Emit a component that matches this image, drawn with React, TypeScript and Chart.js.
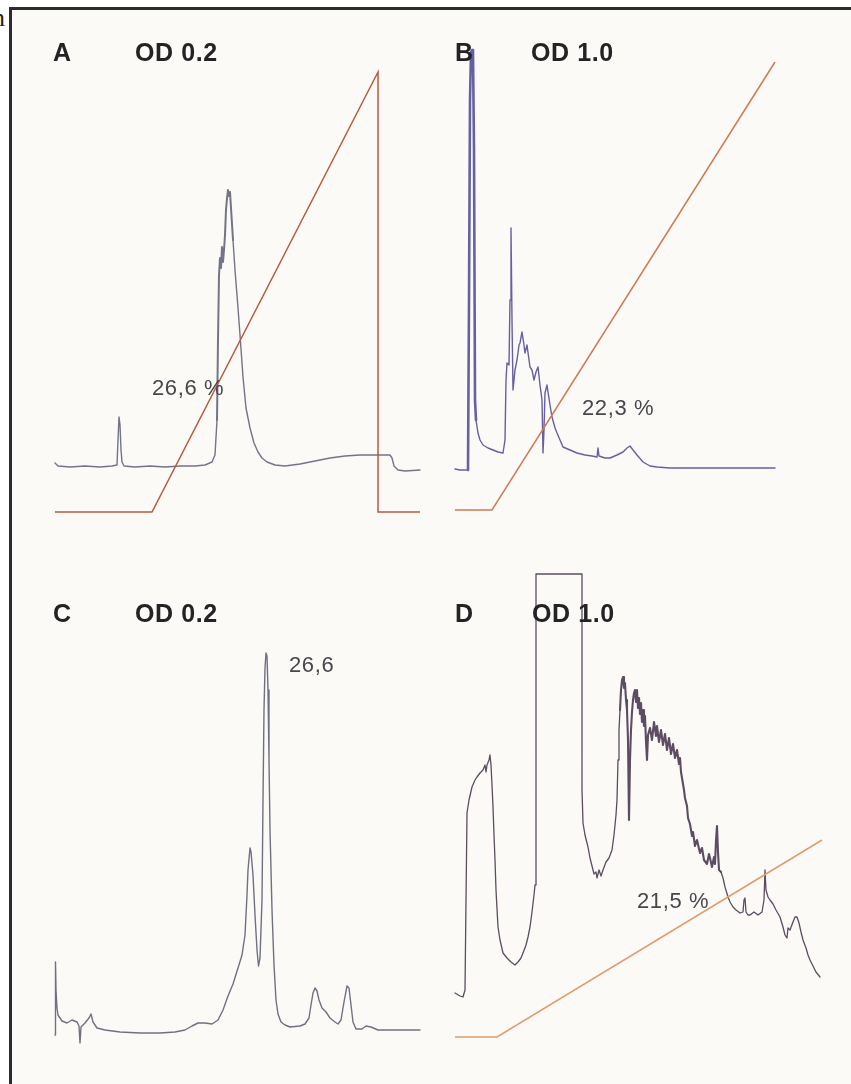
import { useEffect, useRef } from "react";
import { Chart, registerables } from "chart.js";

Chart.register(...registerables);

// ---------- Panel A (OD 0.2) : time (min) vs signal ----------
const A_TIME = [0, 0.3, 1.5, 3.0, 4.5, 5.7, 6.2, 6.3, 6.4, 6.5, 6.6, 6.7, 6.9, 8.0, 9.5, 11.0, 12.5, 14.0, 15.0, 15.7, 16.0, 16.2, 16.3, 16.4, 16.5, 16.6, 16.7, 16.8, 16.9, 17.0, 17.1, 17.2, 17.3, 17.4, 17.5, 17.6, 17.8, 18.0, 18.3, 18.5, 18.8, 19.1, 19.5, 19.9, 20.3, 20.7, 21.2, 22.0, 23.0, 24.5, 26.0, 27.5, 29.0, 30.5, 32.0, 33.5, 33.7, 33.9, 34.3, 35.0, 36.5];
const A_SIGNAL = [7, 4, 3, 4, 3, 4, 5, 30, 53, 45, 20, 8, 4, 3, 4, 3, 4, 4, 5, 8, 15, 50, 130, 195, 212, 202, 223, 208, 220, 235, 260, 272, 280, 274, 278, 262, 230, 200, 162, 135, 93, 62, 42, 27, 18, 12, 8, 5, 4, 6, 9, 12, 14, 15, 15, 15, 12, 4, 0, -1, 0];
const A_GRAD_TIME = [0, 9.7, 32.3, 32.3, 36.5];
const A_GRAD_B = [0, 0, 100, 0, 0];

// ---------- Panel B (OD 1.0) ----------
const B_TIME = [0, 0.5, 1.3, 1.4, 1.5, 1.6, 1.7, 1.8, 1.9, 2.0, 2.1, 2.3, 2.5, 2.8, 3.3, 3.8, 4.3, 4.8, 5.0, 5.1, 5.2, 5.4, 5.5, 5.6, 5.7, 5.8, 6.0, 6.2, 6.4, 6.5, 6.7, 6.9, 7.0, 7.2, 7.4, 7.5, 7.7, 7.9, 8.1, 8.3, 8.5, 8.7, 8.8, 8.9, 9.0, 9.2, 9.3, 9.5, 9.7, 10.0, 10.2, 10.5, 10.8, 11.5, 12.2, 13.0, 13.7, 14.2, 14.3, 14.4, 15.0, 15.5, 16.2, 16.8, 17.2, 17.5, 17.8, 18.2, 18.8, 19.5, 20.2, 21.5, 24.5, 28.5, 32.0];
const B_SIGNAL = [1, 0, 0, 170, 370, 418, 420, 418, 320, 70, 50, 37, 30, 25, 22, 20, 18, 17, 30, 90, 107, 105, 170, 242, 150, 80, 100, 110, 125, 127, 138, 125, 117, 125, 110, 103, 100, 90, 98, 103, 85, 70, 17, 40, 77, 85, 78, 65, 53, 42, 37, 30, 23, 20, 17, 15, 14, 13, 22, 14, 12, 12, 15, 18, 22, 24, 20, 15, 8, 4, 3, 2, 2, 2, 2];
const B_GRAD_TIME = [0, 3.7, 32.0];
const B_GRAD_B = [0, 0, 100];

// ---------- Panel C (OD 0.2) ----------
const C_TIME = [0, 0.05, 0.1, 0.2, 0.3, 0.7, 1.2, 1.7, 2.2, 2.4, 2.5, 2.6, 3.0, 3.4, 3.6, 3.8, 4.2, 5.0, 6.5, 8.5, 10.5, 12.0, 13.0, 13.7, 14.3, 15.0, 15.7, 16.3, 16.8, 17.3, 17.8, 18.3, 18.7, 19.0, 19.2, 19.3, 19.5, 19.6, 19.8, 20.0, 20.2, 20.35, 20.5, 20.7, 20.8, 20.9, 21.0, 21.1, 21.2, 21.3, 21.4, 21.5, 21.7, 21.9, 22.1, 22.3, 22.6, 23.0, 23.5, 24.5, 25.0, 25.4, 25.6, 25.8, 26.0, 26.2, 26.4, 26.7, 27.1, 27.5, 28.0, 28.3, 28.6, 28.9, 29.2, 29.4, 29.6, 29.8, 30.1, 30.7, 31.1, 31.6, 32.3, 34.0, 36.5];
const C_SIGNAL = [-5, 68, 40, 22, 15, 9, 7, 10, 8, 4, -13, 3, 7, 12, 16, 8, 2, 0, -2, -3, -3, -2, 0, 4, 7, 7, 6, 10, 20, 34, 46, 62, 75, 95, 135, 160, 182, 178, 155, 115, 80, 64, 72, 130, 230, 320, 362, 377, 374, 340, 270, 200, 120, 65, 30, 16, 8, 5, 3, 4, 6, 12, 25, 37, 42, 39, 30, 22, 18, 12, 8, 6, 10, 28, 44, 42, 25, 8, 1, 1, 4, 3, 0, 0, 0];

// ---------- Panel D (OD 1.0) ----------
const D_TIME = [0, 0.5, 0.8, 1.0, 1.1, 1.2, 1.4, 1.7, 2.0, 2.2, 2.5, 2.8, 3.0, 3.1, 3.2, 3.4, 3.5, 3.6, 3.7, 3.8, 3.9, 4.0, 4.1, 4.3, 4.5, 4.8, 5.2, 5.6, 6.0, 6.3, 6.6, 6.8, 7.1, 7.3, 7.5, 7.7, 7.9, 8.0, 8.1, 12.7, 12.7, 12.8, 13.0, 13.3, 13.5, 13.7, 13.9, 14.1, 14.2, 14.4, 14.6, 14.8, 15.1, 15.4, 15.7, 15.9, 16.1, 16.2, 16.3, 16.4, 16.5, 16.6, 16.7, 16.8, 16.9, 17.0, 17.1, 17.2, 17.3, 17.4, 17.5, 17.6, 17.7, 17.8, 17.9, 18.0, 18.1, 18.2, 18.3, 18.4, 18.5, 18.6, 18.7, 18.8, 18.9, 19.0, 19.1, 19.2, 19.3, 19.5, 19.7, 19.9, 20.1, 20.2, 20.4, 20.6, 20.8, 21.0, 21.2, 21.4, 21.6, 21.8, 22.0, 22.2, 22.4, 22.5, 22.6, 22.7, 22.9, 23.0, 23.2, 23.3, 23.5, 23.7, 23.8, 24.0, 24.2, 24.5, 24.7, 24.9, 25.2, 25.4, 25.5, 25.7, 25.9, 26.0, 26.1, 26.2, 26.3, 26.4, 26.6, 26.8, 27.0, 27.3, 27.5, 27.8, 28.1, 28.5, 28.8, 28.9, 29.0, 29.1, 29.3, 29.5, 29.9, 30.3, 30.7, 30.9, 31.0, 31.1, 31.3, 31.5, 31.8, 32.1, 32.5, 32.8, 33.0, 33.2, 33.3, 33.5, 33.8, 34.0, 34.2, 34.4, 34.6, 34.8, 35.1, 35.3, 35.5, 35.8, 36.1, 36.5];
const D_SIGNAL = [47, 44, 43, 50, 140, 227, 240, 253, 260, 263, 267, 270, 275, 268, 275, 280, 285, 275, 255, 233, 205, 180, 150, 113, 100, 87, 82, 78, 75, 78, 82, 87, 95, 103, 113, 128, 145, 155, 466, 466, 250, 217, 205, 193, 182, 174, 166, 168, 162, 170, 164, 170, 178, 182, 190, 205, 225, 240, 280, 310, 330, 350, 360, 363, 352, 357, 340, 330, 300, 220, 280, 310, 328, 340, 347, 350, 338, 350, 332, 342, 326, 337, 318, 330, 314, 324, 298, 280, 305, 312, 300, 318, 304, 314, 298, 310, 295, 306, 290, 302, 286, 296, 282, 290, 276, 282, 268, 262, 250, 242, 234, 222, 216, 204, 208, 194, 200, 187, 192, 180, 176, 186, 182, 173, 183, 176, 200, 214, 188, 170, 168, 162, 153, 143, 138, 133, 130, 127, 128, 140, 142, 128, 125, 125, 128, 125, 128, 140, 170, 150, 143, 140, 136, 130, 123, 113, 105, 102, 112, 110, 118, 123, 123, 117, 108, 100, 92, 85, 80, 74, 68, 63];
const D_GRAD_TIME = [0, 4.2, 36.7];
const D_GRAD_B = [0, 0, 98.5];

type Range = [number, number];

function pts(xs: number[], ys: number[]) {
  return xs.map((x, i) => ({ x, y: ys[i] }));
}

function makeConfig(opts: {
  t: number[]; s: number[]; color: string; width: number;
  gt: number[]; gb: number[]; gColor: string;
  xr: Range; yr: Range; y2r: Range;
  thick?: Range; thickWidth?: number;
}) {
  const datasets: any[] = [
    {
      data: pts(opts.gt, opts.gb),
      yAxisID: "y2",
      borderColor: opts.gColor,
      borderWidth: 1.5,
      showLine: true,
      pointRadius: 0,
      tension: 0,
    },
    {
      data: pts(opts.t, opts.s),
      yAxisID: "y",
      borderColor: opts.color,
      borderWidth: opts.width,
      borderJoinStyle: "round",
      borderCapStyle: "round",
      showLine: true,
      pointRadius: 0,
      tension: 0,
      segment: opts.thick
        ? {
            borderWidth: (ctx: any) => {
              const x = ctx.p0.parsed.x;
              return x >= opts.thick![0] && x <= opts.thick![1] ? opts.thickWidth : opts.width;
            },
          }
        : undefined,
    },
  ];
  return {
    type: "scatter" as const,
    data: { datasets },
    options: {
      responsive: false,
      animation: false as const,
      events: [],
      layout: { padding: 0 },
      plugins: { legend: { display: false }, tooltip: { enabled: false }, title: { display: false } },
      scales: {
        x: { type: "linear", display: false, min: opts.xr[0], max: opts.xr[1] },
        y: { type: "linear", display: false, min: opts.yr[0], max: opts.yr[1] },
        y2: { type: "linear", display: false, min: opts.y2r[0], max: opts.y2r[1] },
      },
    },
  };
}

function Panel({ left, top, width, height, config }: { left: number; top: number; width: number; height: number; config: any }) {
  const ref = useRef<HTMLCanvasElement>(null);
  useEffect(() => {
    if (!ref.current) return;
    const chart = new Chart(ref.current, config);
    return () => chart.destroy();
  }, []);
  return (
    <canvas
      ref={ref}
      width={width}
      height={height}
      style={{ position: "absolute", left, top, width, height }}
    />
  );
}

const SANS = "'Liberation Sans', Arial, Helvetica, sans-serif";

function Label({ left, top, text }: { left: number; top: number; text: string }) {
  return (
    <div style={{ position: "absolute", left, top, font: `bold 25px/25px ${SANS}`, letterSpacing: "0.6px", color: "#232326", whiteSpace: "pre" }}>
      {text}
    </div>
  );
}

function Note({ left, top, text }: { left: number; top: number; text: string }) {
  return (
    <div style={{ position: "absolute", left, top, font: `22px/22px ${SANS}`, letterSpacing: "0.6px", color: "#47474c", whiteSpace: "pre" }}>
      {text}
    </div>
  );
}

const configA = makeConfig({
  t: A_TIME, s: A_SIGNAL, color: "#737488", width: 1.4,
  gt: A_GRAD_TIME, gb: A_GRAD_B, gColor: "#b85a3c",
  xr: [-1, 38], yr: [-70, 430], y2r: [-6.36, 107.27],
  thick: [16.2, 17.6], thickWidth: 2,
});
const configB = makeConfig({
  t: B_TIME, s: B_SIGNAL, color: "#6660a2", width: 1.4,
  gt: B_GRAD_TIME, gb: B_GRAD_B, gColor: "#d07a54",
  xr: [-1, 39], yr: [-70, 430], y2r: [-6.7, 104.91],
  thick: [1.3, 2.0], thickWidth: 2.6,
});
const configC = makeConfig({
  t: C_TIME, s: C_SIGNAL, color: "#6f7182", width: 1.4,
  gt: [], gb: [], gColor: "#000",
  xr: [-1, 38], yr: [-30, 430], y2r: [0, 100],
});
const configD = makeConfig({
  t: D_TIME, s: D_SIGNAL, color: "#5c4d62", width: 1.3,
  gt: D_GRAD_TIME, gb: D_GRAD_B, gColor: "#e39a6c",
  xr: [-1, 39], yr: [-20, 480], y2r: [-11.5, 238.5],
  thick: [16.5, 26.5], thickWidth: 2.1,
});

export default function App() {
  return (
    <div style={{ position: "absolute", left: 0, top: 0, width: 851, height: 1084, background: "#ffffff", overflow: "hidden" }}>
      <div style={{ position: "absolute", left: -8, top: 5, font: "26px/26px 'Liberation Serif', 'Times New Roman', serif", color: "#222" }}>n</div>
      <div
        style={{
          position: "absolute", left: 9, top: 7, width: 842, height: 1077, boxSizing: "border-box",
          borderTop: "3px solid #2b2b30", borderLeft: "3px solid #2b2b30", background: "#fbfaf7",
        }}
      />
      <Panel left={45} top={40} width={390} height={500} config={configA} />
      <Panel left={445} top={40} width={400} height={500} config={configB} />
      <Panel left={45} top={600} width={390} height={460} config={configC} />
      <Panel left={445} top={560} width={400} height={500} config={configD} />

      <Label left={53} top={40} text="A" />
      <Label left={135} top={40} text="OD 0.2" />
      <Label left={455} top={40} text="B" />
      <Label left={531} top={40} text="OD 1.0" />
      <Label left={53} top={601} text="C" />
      <Label left={135} top={601} text="OD 0.2" />
      <Label left={455} top={601} text="D" />
      <Label left={532} top={601} text="OD 1.0" />

      <Note left={152} top={377} text="26,6 %" />
      <Note left={582} top={397} text="22,3 %" />
      <Note left={289} top={654} text="26,6" />
      <Note left={637} top={890} text="21,5 %" />
    </div>
  );
}
